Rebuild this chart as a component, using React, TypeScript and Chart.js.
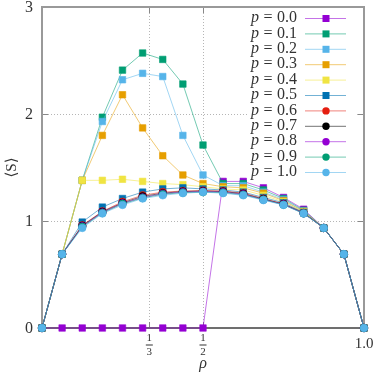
import React, { useEffect, useRef } from "react";
import { Chart, registerables } from "chart.js";

Chart.register(...registerables);

const rho = [0, 0.0625, 0.125, 0.1875, 0.25, 0.3125, 0.375, 0.4375, 0.5, 0.5625, 0.625, 0.6875, 0.75, 0.8125, 0.875, 0.9375, 1];

const pLabels = ["0.0", "0.1", "0.2", "0.3", "0.4", "0.5", "0.6", "0.7", "0.8", "0.9", "1.0"];

const s00 = [0, 0, 0, 0, 0, 0, 0, 0, 0, 1.37, 1.37, 1.31, 1.22, 1.11, 0.935, 0.69, 0];
const s01 = [0, 0.69, 1.38, 1.97, 2.41, 2.57, 2.51, 2.28, 1.71, 1.35, 1.35, 1.29, 1.21, 1.10, 0.935, 0.69, 0];
const s02 = [0, 0.69, 1.38, 1.93, 2.32, 2.38, 2.35, 1.80, 1.43, 1.33, 1.33, 1.27, 1.20, 1.095, 0.935, 0.69, 0];
const s03 = [0, 0.69, 1.38, 1.80, 2.18, 1.87, 1.61, 1.43, 1.35, 1.32, 1.31, 1.26, 1.19, 1.09, 0.935, 0.69, 0];
const s04 = [0, 0.69, 1.38, 1.38, 1.39, 1.37, 1.35, 1.34, 1.32, 1.30, 1.29, 1.24, 1.18, 1.085, 0.935, 0.69, 0];
const s05 = [0, 0.69, 0.99, 1.13, 1.21, 1.27, 1.30, 1.31, 1.30, 1.29, 1.27, 1.22, 1.17, 1.08, 0.935, 0.69, 0];
const s06 = [0, 0.69, 0.96, 1.09, 1.18, 1.24, 1.27, 1.28, 1.285, 1.28, 1.26, 1.21, 1.16, 1.075, 0.935, 0.69, 0];
const s07 = [0, 0.69, 0.955, 1.085, 1.17, 1.23, 1.26, 1.275, 1.28, 1.275, 1.255, 1.205, 1.158, 1.073, 0.935, 0.69, 0];
const s08 = [0, 0.69, 0.95, 1.08, 1.165, 1.22, 1.255, 1.27, 1.275, 1.27, 1.25, 1.20, 1.155, 1.072, 0.935, 0.69, 0];
const s09 = [0, 0.69, 0.945, 1.075, 1.16, 1.215, 1.25, 1.265, 1.27, 1.265, 1.245, 1.20, 1.152, 1.071, 0.935, 0.69, 0];
const s10 = [0, 0.69, 0.935, 1.07, 1.15, 1.21, 1.24, 1.26, 1.27, 1.26, 1.24, 1.195, 1.15, 1.07, 0.935, 0.69, 0];

const series = [s00, s01, s02, s03, s04, s05, s06, s07, s08, s09, s10];

const colors = ["#9400d3", "#009e73", "#56b4e9", "#e69f00", "#f0e442", "#0072b2", "#e51e10", "#000000", "#9400d3", "#009e73", "#56b4e9"];
const shapes = ["rect", "rect", "rect", "rect", "rect", "rect", "circle", "circle", "circle", "circle", "circle"];

const yTicks = [0, 1, 2, 3];
const xGridTicks = [0, 1 / 3, 1 / 2, 1];

function hexA(hex: string, a: number) {
  const n = parseInt(hex.slice(1), 16);
  return `rgba(${(n >> 16) & 255},${(n >> 8) & 255},${n & 255},${a})`;
}

const TEXT = "#333";
const SERIF = '"Liberation Serif", "DejaVu Serif", serif';

const decorPlugin = {
  id: "decor",
  beforeDatasetsDraw(chart: any) {
    const { ctx, chartArea: a, scales } = chart;
    ctx.save();
    ctx.strokeStyle = "#888";
    ctx.lineWidth = 1;
    [1, 2].forEach((v) => {
      const py = Math.round(scales.y.getPixelForValue(v)) + 0.5;
      ctx.beginPath();
      ctx.moveTo(a.left, py);
      ctx.lineTo(a.left + 6, py);
      ctx.moveTo(a.right - 6, py);
      ctx.lineTo(a.right, py);
      ctx.stroke();
    });
    [1 / 3, 1 / 2].forEach((v) => {
      const px = Math.round(scales.x.getPixelForValue(v)) + 0.5;
      ctx.beginPath();
      ctx.moveTo(px, a.bottom);
      ctx.lineTo(px, a.bottom - 6);
      ctx.moveTo(px, a.top);
      ctx.lineTo(px, a.top + 6);
      ctx.stroke();
    });
    ctx.strokeStyle = "#999";
    ctx.lineWidth = 2;
    ctx.strokeRect(a.left, a.top, a.right - a.left, a.bottom - a.top);
    ctx.strokeStyle = "#444";
    ctx.lineWidth = 1;
    ctx.beginPath();
    ctx.moveTo(a.left, a.bottom);
    ctx.lineTo(a.right, a.bottom);
    ctx.stroke();
    ctx.restore();
  },
  afterDraw(chart: any) {
    const { ctx, chartArea: a, scales } = chart;
    ctx.save();
    ctx.fillStyle = TEXT;
    // y tick labels
    ctx.font = `16px ${SERIF}`;
    ctx.textAlign = "right";
    ctx.textBaseline = "middle";
    yTicks.forEach((v) => {
      ctx.fillText(String(v), a.left - 9, scales.y.getPixelForValue(v) + 1);
    });
    // x tick labels
    const fx = (v: number, num: string, den: string) => {
      const px = scales.x.getPixelForValue(v);
      ctx.font = `11px ${SERIF}`;
      ctx.textAlign = "center";
      ctx.textBaseline = "middle";
      ctx.fillText(num, px, a.bottom + 10);
      ctx.fillText(den, px, a.bottom + 24);
      ctx.fillRect(px - 3.5, a.bottom + 16.5, 7, 1);
    };
    fx(1 / 3, "1", "3");
    fx(1 / 2, "1", "2");
    ctx.font = `15px ${SERIF}`;
    ctx.textAlign = "center";
    ctx.textBaseline = "middle";
    ctx.fillText("1.0", scales.x.getPixelForValue(1), a.bottom + 16);
    // axis titles
    ctx.font = `italic 16px ${SERIF}`;
    ctx.fillText("ρ", scales.x.getPixelForValue(0.5), a.bottom + 36);
    ctx.save();
    ctx.translate(12, (a.top + a.bottom) / 2);
    ctx.rotate(-Math.PI / 2);
    ctx.font = `15px ${SERIF}`;
    ctx.fillText("⟨S⟩", 0, 0);
    ctx.restore();

    // legend
    ctx.fillStyle = "#fff";
    ctx.fillRect(247, 9, 109, 170);
    const textRight = 297;
    const lineL = 305;
    const lineR = 346;
    const markX = 326;
    pLabels.forEach((lab, i) => {
      const yy = 18 + i * 15.4;
      ctx.textBaseline = "middle";
      ctx.textAlign = "left";
      ctx.font = `16px ${SERIF}`;
      const wNum = ctx.measureText(lab).width;
      const wEq = ctx.measureText("=").width;
      ctx.font = `italic 16px ${SERIF}`;
      const wP = ctx.measureText("p").width;
      const gap = 4.5;
      const total = wP + gap + wEq + gap + wNum;
      let x0 = textRight - total;
      ctx.fillStyle = TEXT;
      ctx.fillText("p", x0, yy);
      ctx.font = `16px ${SERIF}`;
      x0 += wP + gap;
      ctx.fillText("=", x0, yy);
      x0 += wEq + gap;
      ctx.fillText(lab, x0, yy);
      ctx.strokeStyle = hexA(colors[i], 0.55);
      ctx.lineWidth = 1;
      ctx.beginPath();
      ctx.moveTo(lineL, yy + 0.5);
      ctx.lineTo(lineR, yy + 0.5);
      ctx.stroke();
      ctx.fillStyle = colors[i];
      if (shapes[i] === "rect") {
        ctx.fillRect(markX - 3.5, yy - 3, 7, 7);
      } else {
        ctx.beginPath();
        ctx.arc(markX, yy + 0.5, 3.7, 0, Math.PI * 2);
        ctx.fill();
      }
    });
    ctx.restore();
  },
};

export default function App() {
  const ref = useRef<HTMLCanvasElement | null>(null);
  useEffect(() => {
    document.body.style.margin = "0";
    const canvas = ref.current;
    if (!canvas) return;
    const datasets = series.map((s, i) => ({
      label: "p = " + pLabels[i],
      data: rho.map((x, k) => ({ x, y: s[k] })),
      borderColor: hexA(colors[i], 0.55),
      borderWidth: 1,
      backgroundColor: colors[i],
      pointBackgroundColor: colors[i],
      pointBorderColor: hexA(colors[i], 0.6),
      pointBorderWidth: 1,
      pointStyle: shapes[i],
      pointRadius: shapes[i] === "rect" ? 4.6 : 3.8,
      tension: 0,
      clip: false as any,
      order: 10 - i,
    }));
    const chart = new Chart(canvas, {
      type: "line",
      data: { datasets },
      options: {
        responsive: false,
        animation: false,
        devicePixelRatio: 1,
        layout: { padding: { left: 0, right: 10, top: 7, bottom: 0 } },
        plugins: { legend: { display: false }, tooltip: { enabled: false } },
        scales: {
          x: {
            type: "linear",
            min: 0,
            max: 1,
            afterBuildTicks: (s: any) => {
              s.ticks = xGridTicks.map((v) => ({ value: v }));
            },
            afterFit: (s: any) => {
              s.height = 48;
            },
            ticks: { display: false },
            grid: {
              drawTicks: false,
              color: (c: any) => (c.tick && (c.tick.value === 0 || c.tick.value === 1) ? "rgba(0,0,0,0)" : "#b5b5b5"),
              lineWidth: 1,
            },
            border: { display: false, dash: [1, 2] },
          },
          y: {
            type: "linear",
            min: 0,
            max: 3,
            afterBuildTicks: (s: any) => {
              s.ticks = yTicks.map((v) => ({ value: v }));
            },
            afterFit: (s: any) => {
              s.width = 42;
            },
            ticks: { display: false },
            grid: {
              drawTicks: false,
              color: (c: any) => (c.tick && (c.tick.value === 0 || c.tick.value === 3) ? "rgba(0,0,0,0)" : "#b5b5b5"),
              lineWidth: 1,
            },
            border: { display: false, dash: [1, 2] },
          },
        },
      },
      plugins: [decorPlugin],
    });
    return () => chart.destroy();
  }, []);
  return (
    <div style={{ width: 374, height: 376 }}>
      <canvas ref={ref} width={374} height={376} style={{ display: "block" }} />
    </div>
  );
}
